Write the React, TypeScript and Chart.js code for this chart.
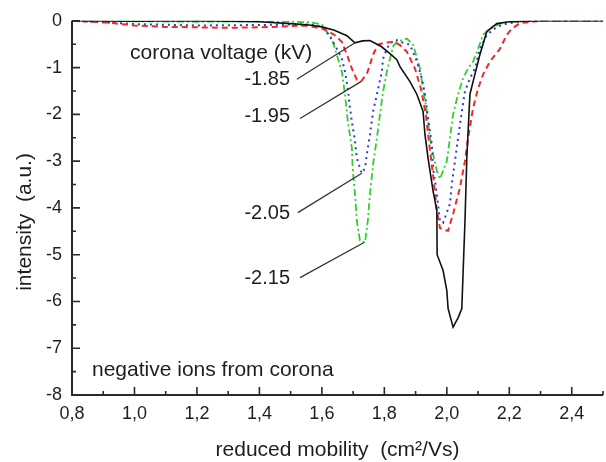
import React, { useEffect, useRef } from "react";
import { Chart, registerables } from "chart.js";

Chart.register(...registerables);

// ---------- data ----------
const X_TICKS = [0.8, 1.0, 1.2, 1.4, 1.6, 1.8, 2.0, 2.2, 2.4];
const X_MINOR = [0.9, 1.1, 1.3, 1.5, 1.7, 1.9, 2.1, 2.3, 2.5];
const Y_TICKS = [0, -1, -2, -3, -4, -5, -6, -7, -8];
const Y_MINOR = [-0.5, -1.5, -2.5, -3.5, -4.5, -5.5, -6.5, -7.5];

const SERIES_NAMES = ["-1.85", "-1.95", "-2.05", "-2.15"];

const BLACK_X = [0.80, 1.00, 1.20, 1.40, 1.50, 1.56, 1.60, 1.64, 1.68, 1.706, 1.73, 1.754, 1.79, 1.818, 1.84, 1.85, 1.882, 1.904, 1.924, 1.93, 1.94, 1.956, 1.968, 1.969, 1.988, 2.0, 2.004, 2.020, 2.036, 2.048, 2.052, 2.058, 2.064, 2.074, 2.084, 2.106, 2.128, 2.16, 2.2, 2.3, 2.4, 2.5];
const BLACK_Y = [0, -0.01, 0, -0.02, -0.06, -0.09, -0.13, -0.2, -0.32, -0.47, -0.43, -0.42, -0.55, -0.70, -0.83, -0.98, -1.30, -1.57, -1.94, -2.43, -2.94, -3.64, -4.06, -5.0, -5.34, -5.77, -6.15, -6.55, -6.35, -6.15, -5.40, -4.3, -2.94, -1.57, -1.3, -0.72, -0.23, -0.06, -0.02, 0, 0, 0];

const RED_X = [0.80, 0.90, 1.00, 1.10, 1.20, 1.30, 1.40, 1.48, 1.55, 1.603, 1.64, 1.664, 1.68, 1.696, 1.712, 1.725, 1.744, 1.754, 1.764, 1.78, 1.80, 1.83, 1.85, 1.872, 1.898, 1.917, 1.933, 1.943, 1.956, 1.968, 1.978, 1.99, 2.004, 2.020, 2.042, 2.058, 2.068, 2.084, 2.100, 2.116, 2.138, 2.170, 2.192, 2.208, 2.234, 2.3, 2.4, 2.5];
const RED_Y = [0, -0.03, -0.1, -0.13, -0.14, -0.15, -0.14, -0.12, -0.1, -0.17, -0.3, -0.45, -0.72, -1.02, -1.26, -1.30, -1.13, -0.94, -0.72, -0.51, -0.47, -0.45, -0.52, -0.66, -1.02, -1.45, -2.0, -2.6, -3.3, -4.06, -4.43, -4.47, -4.49, -4.13, -3.57, -3.0, -2.51, -1.87, -1.45, -1.15, -0.87, -0.6, -0.30, -0.17, -0.05, 0, 0, 0];

const BLUE_X = [0.80, 0.90, 1.00, 1.20, 1.40, 1.50, 1.56, 1.603, 1.626, 1.648, 1.664, 1.674, 1.683, 1.690, 1.696, 1.706, 1.712, 1.722, 1.728, 1.738, 1.744, 1.754, 1.764, 1.780, 1.792, 1.796, 1.808, 1.818, 1.835, 1.85, 1.882, 1.904, 1.920, 1.930, 1.940, 1.952, 1.956, 1.968, 1.978, 1.988, 2.010, 2.016, 2.026, 2.036, 2.048, 2.058, 2.074, 2.090, 2.106, 2.128, 2.160, 2.192, 2.25, 2.35, 2.5];
const BLUE_Y = [0, -0.03, -0.07, -0.1, -0.09, -0.08, -0.08, -0.13, -0.34, -0.60, -0.81, -1.09, -1.45, -1.87, -2.15, -2.57, -2.94, -3.15, -3.26, -3.15, -2.85, -2.43, -1.94, -1.45, -1.09, -0.81, -0.60, -0.49, -0.40, -0.45, -0.51, -0.87, -1.23, -1.57, -2.09, -2.64, -3.15, -3.70, -4.28, -4.32, -3.91, -3.49, -3.0, -2.51, -1.94, -1.51, -1.23, -1.02, -0.60, -0.30, -0.13, -0.06, 0, 0, 0];

const GREEN_X = [0.80, 1.00, 1.20, 1.40, 1.50, 1.562, 1.600, 1.632, 1.642, 1.664, 1.674, 1.683, 1.696, 1.699, 1.706, 1.712, 1.722, 1.738, 1.747, 1.754, 1.764, 1.776, 1.786, 1.796, 1.808, 1.818, 1.828, 1.840, 1.872, 1.892, 1.914, 1.924, 1.936, 1.946, 1.956, 1.968, 1.978, 2.000, 2.010, 2.020, 2.036, 2.052, 2.068, 2.084, 2.100, 2.116, 2.138, 2.170, 2.202, 2.3, 2.5];
const GREEN_Y = [0, -0.01, -0.02, -0.01, -0.02, -0.03, -0.08, -0.38, -0.6, -1.09, -1.57, -2.15, -2.72, -3.21, -3.70, -4.28, -4.70, -4.74, -4.28, -3.70, -3.06, -2.51, -2.00, -1.51, -1.09, -0.81, -0.55, -0.45, -0.38, -0.51, -1.02, -1.45, -1.94, -2.51, -2.85, -3.21, -3.38, -3.0, -2.51, -2.0, -1.57, -1.23, -1.02, -0.87, -0.6, -0.30, -0.17, -0.06, -0.02, 0, 0];

// ---------- annotation placement (data units) ----------
const LABEL_RIGHT_X = 1.498;
const LABEL_Y = [-1.255, -2.04, -4.11, -5.51];
const LEADER_FROM = [
  [1.52, -1.25],
  [1.53, -2.09],
  [1.523, -4.1],
  [1.53, -5.49],
];
const LEADER_TO = [
  [1.706, -0.47],
  [1.725, -1.30],
  [1.728, -3.26],
  [1.735, -4.74],
];
const HEADER_TEXT = "corona voltage (kV)";
const HEADER_POS = [0.986, -0.7];
const FOOTER_TEXT = "negative ions from corona";
const FOOTER_POS = [0.864, -7.47];
const X_TITLE = "reduced mobility  (cm\u00B2/Vs)";
const Y_TITLE = "intensity  (a.u.)";

const FONT = "'Liberation Sans', Arial, sans-serif";
const TEXT_COLOR = "#1e1e1e";
const AXIS_COLOR = "#2a2a2a";

const pts = (xs: number[], ys: number[]) => xs.map((x, i) => ({ x, y: ys[i] }));
const fmt = (v: number) => v.toFixed(1).replace(".", ",");

const overlay = {
  id: "overlay",
  afterDatasetsDraw(chart: any) {
    const { ctx, chartArea } = chart;
    const xs = chart.scales.x;
    const ys = chart.scales.y;
    const { left, right, top, bottom } = chartArea;
    ctx.save();
    // axes
    ctx.strokeStyle = AXIS_COLOR;
    ctx.lineWidth = 2;
    ctx.beginPath();
    ctx.moveTo(left, top);
    ctx.lineTo(left, bottom);
    ctx.lineTo(right, bottom);
    ctx.stroke();
    // ticks (inward)
    ctx.lineWidth = 1.6;
    ctx.beginPath();
    X_TICKS.forEach((v) => {
      const p = xs.getPixelForValue(v);
      ctx.moveTo(p, bottom);
      ctx.lineTo(p, bottom - 8);
    });
    X_MINOR.forEach((v) => {
      const p = xs.getPixelForValue(v);
      ctx.moveTo(p, bottom);
      ctx.lineTo(p, bottom - 4);
    });
    Y_TICKS.forEach((v) => {
      const p = ys.getPixelForValue(v);
      ctx.moveTo(left, p);
      ctx.lineTo(left + 8, p);
    });
    Y_MINOR.forEach((v) => {
      const p = ys.getPixelForValue(v);
      ctx.moveTo(left, p);
      ctx.lineTo(left + 4, p);
    });
    ctx.stroke();

    // annotations
    ctx.fillStyle = TEXT_COLOR;
    ctx.textBaseline = "middle";
    ctx.textAlign = "left";
    ctx.font = `21px ${FONT}`;
    ctx.fillText(HEADER_TEXT, xs.getPixelForValue(HEADER_POS[0]), ys.getPixelForValue(HEADER_POS[1]));
    ctx.fillText(FOOTER_TEXT, xs.getPixelForValue(FOOTER_POS[0]), ys.getPixelForValue(FOOTER_POS[1]));
    ctx.font = `20px ${FONT}`;
    ctx.textAlign = "right";
    SERIES_NAMES.forEach((name, i) => {
      ctx.fillText(name, xs.getPixelForValue(LABEL_RIGHT_X), ys.getPixelForValue(LABEL_Y[i]));
    });
    ctx.strokeStyle = "#333";
    ctx.lineWidth = 1.3;
    ctx.beginPath();
    LEADER_FROM.forEach((f, i) => {
      const t = LEADER_TO[i];
      ctx.moveTo(xs.getPixelForValue(f[0]), ys.getPixelForValue(f[1]));
      ctx.lineTo(xs.getPixelForValue(t[0]), ys.getPixelForValue(t[1]));
    });
    ctx.stroke();

    // axis titles
    ctx.font = `21px ${FONT}`;
    ctx.textAlign = "center";
    ctx.fillText(X_TITLE, (left + right) / 2, bottom + 55);
    ctx.save();
    ctx.translate(25, ys.getPixelForValue(-4.3));
    ctx.rotate(-Math.PI / 2);
    ctx.fillText(Y_TITLE, 0, 0);
    ctx.restore();
    ctx.restore();
  },
};

export default function App() {
  const ref = useRef<HTMLCanvasElement>(null);
  useEffect(() => {
    if (!ref.current) return;
    const line = (label: string, xs: number[], ys: number[], color: string, width: number, dash: number[], order: number) => ({
      label,
      data: pts(xs, ys),
      showLine: true,
      borderColor: color,
      backgroundColor: color,
      borderWidth: width,
      borderDash: dash,
      pointRadius: 0,
      tension: 0,
      fill: false,
      order,
    });
    const chart = new Chart(ref.current, {
      type: "scatter",
      data: {
        datasets: [
          line(SERIES_NAMES[3], GREEN_X, GREEN_Y, "#2fd02f", 1.8, [7, 3, 2, 3], 3),
          line(SERIES_NAMES[2], BLUE_X, BLUE_Y, "#2b3bd6", 2, [2, 4], 2),
          line(SERIES_NAMES[1], RED_X, RED_Y, "#ee2a2a", 2, [6, 4], 1),
          line(SERIES_NAMES[0], BLACK_X, BLACK_Y, "#111111", 1.6, [], 0),
        ],
      },
      options: {
        animation: false,
        responsive: false,
        maintainAspectRatio: false,
        layout: { padding: { left: 0, right: 3, top: 19, bottom: 0 } },
        plugins: { legend: { display: false }, tooltip: { enabled: false } },
        scales: {
          x: {
            type: "linear",
            min: 0.8,
            max: 2.5,
            grid: { display: false, drawTicks: false },
            border: { display: false },
            ticks: {
              padding: 8,
              color: TEXT_COLOR,
              font: { family: FONT, size: 18 },
              maxRotation: 0,
              callback: (v: any) => fmt(Number(v)),
            },
            afterBuildTicks: (s: any) => {
              s.ticks = X_TICKS.map((value) => ({ value }));
            },
            afterFit: (s: any) => {
              s.height = 67;
            },
          },
          y: {
            type: "linear",
            min: -8,
            max: 0,
            grid: { display: false, drawTicks: false },
            border: { display: false },
            ticks: {
              padding: 10,
              color: TEXT_COLOR,
              font: { family: FONT, size: 18 },
              callback: (v: any) => String(Math.round(Number(v))),
            },
            afterBuildTicks: (s: any) => {
              s.ticks = Y_TICKS.map((value) => ({ value }));
            },
            afterFit: (s: any) => {
              s.width = 72;
            },
          },
        },
      },
      plugins: [overlay],
    } as any);
    return () => chart.destroy();
  }, []);
  return (
    <div style={{ position: "fixed", left: 0, top: 0, width: 606, height: 462, background: "#fff" }}>
      <canvas ref={ref} width={606} height={462} />
    </div>
  );
}
